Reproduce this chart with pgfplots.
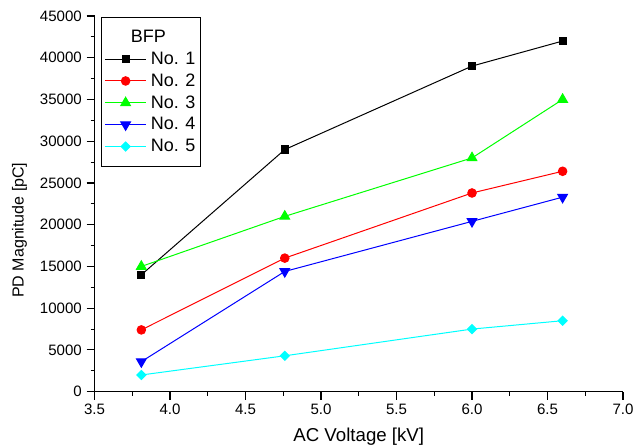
\documentclass[border=0pt]{standalone}
\usepackage{fontspec}
\setmainfont{Liberation Sans}
\usepackage{pgfplots}
\pgfplotsset{compat=1.18}
\usetikzlibrary{calc}

\definecolor{ogreen}{RGB}{0,255,0}
\definecolor{ocyan}{RGB}{0,255,255}
\definecolor{oblue}{RGB}{0,0,255}
\definecolor{ored}{RGB}{255,0,0}

\begin{document}
\begin{tikzpicture}
\begin{axis}[
  name=ax,
  scale only axis,
  width=396.4pt, height=281.8pt,
  xmin=3.5, xmax=7.0, ymin=0, ymax=45000,
  xtick={3.5,4.0,4.5,5.0,5.5,6.0,6.5,7.0},
  ytick={0,5000,10000,15000,20000,25000,30000,35000,40000,45000},
  minor x tick num=1, minor y tick num=1,
  axis x line*=bottom, axis y line*=left,
  tick align=outside,
  major tick length=6pt, minor tick length=3pt,
  axis line style={line width=0.9pt},
  every tick/.style={line width=0.8pt, black},
  scaled y ticks=false,
  /pgf/number format/assume math mode=true,
  xticklabel style={font=\fontsize{11.3}{13}\selectfont, /pgf/number format/fixed, /pgf/number format/fixed zerofill, /pgf/number format/precision=1},
  yticklabel style={font=\fontsize{11.3}{13}\selectfont, /pgf/number format/fixed, /pgf/number format/1000 sep={}},
  xlabel={AC Voltage [kV]},
  ylabel={PD Magnitude [pC]},
  xlabel style={font=\fontsize{14}{16}\selectfont, at={(axis description cs:0.5,0)}, anchor=center, yshift=-34pt},
  ylabel style={font=\fontsize{12}{14}\selectfont, at={(axis description cs:-0.142,0.43)}, anchor=center},
  legend style={at={(rel axis cs:0.012,0.997)}, anchor=north west, draw=black, line width=0.8pt,
    font=\fontsize{13.5}{16}\selectfont, inner xsep=2.3pt, inner ysep=6.5pt, column sep=1.5pt,
    nodes={inner sep=1.5pt, text height=10.6pt, text depth=2.8pt}},
  legend cell align=left,
  legend image code/.code={\draw[mark repeat=2,mark phase=2,#1] plot coordinates {(0pt,0pt)(15.5pt,0pt)(31pt,0pt)};},
  every axis plot/.append style={line width=0.75pt},
]
\addlegendimage{legend image code/.code={\node[overlay, anchor=west] at (17.5pt,0pt) {BFP};}}
\addlegendentry{}

\addplot[color=black, mark=square*, mark size=2.7pt] coordinates {(3.81,14000)(4.76,29000)(6.0,39000)(6.6,42000)};
\addlegendentry{No. 1}
\addplot[color=ored, mark=*, mark size=3.2pt] coordinates {(3.81,7400)(4.76,16000)(6.0,23800)(6.6,26400)};
\addlegendentry{No. 2}
\addplot[color=ogreen, mark=triangle*, mark size=4.2pt] coordinates {(3.81,15000)(4.76,21000)(6.0,28000)(6.6,35000)};
\addlegendentry{No. 3}
\addplot[color=oblue, mark=triangle*, mark size=4.2pt, mark options={rotate=180}] coordinates {(3.81,3600)(4.76,14400)(6.0,20400)(6.6,23300)};
\addlegendentry{No. 4}
\addplot[color=ocyan, mark=square*, mark size=2.4pt, mark options={rotate=45}] coordinates {(3.81,2000)(4.76,4300)(6.0,7500)(6.6,8500)};
\addlegendentry{No. 5}
\end{axis}
\pgfresetboundingbox
\path ($(ax.south west)+(-70.9pt,-42.2pt)$) rectangle ($(ax.north east)+(9pt,12pt)$);
\end{tikzpicture}
\end{document}
